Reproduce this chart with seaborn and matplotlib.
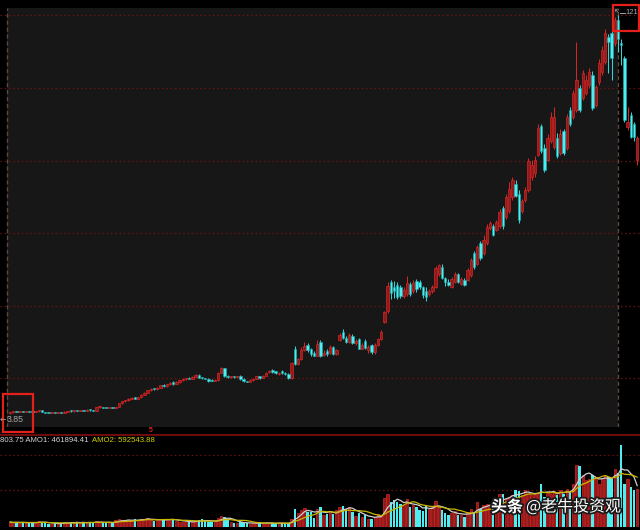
import numpy as np
import pandas as pd
import matplotlib
matplotlib.use("Agg")
import matplotlib.pyplot as plt
import matplotlib.patheffects as pe
from matplotlib.patches import Rectangle
from matplotlib.lines import Line2D
import seaborn as sns

# ---------------- data (daily candles) ----------------
open_ = [4.2, 4.4, 4.5, 4.4, 4.6, 4.5, 4.6, 4.5, 4.4, 4.6,
         4.9, 4.4, 4.2, 4.1, 4.2, 4.1, 4.3, 4.2, 4.5, 4.8,
         4.6, 4.9, 4.8, 5.0, 4.8, 5.0, 4.9, 4.8, 5.8, 5.9,
         5.7, 5.6, 5.8, 5.7, 5.9, 7.0, 7.6, 7.9, 8.3, 8.6,
         8.4, 8.7, 9.4, 10.0, 10.8, 11.3, 11.1, 11.6, 12.3, 12.0,
         12.6, 13.3, 12.7, 13.2, 13.7, 14.0, 14.3, 14.2, 14.8, 15.3,
         14.5, 14.3, 14.2, 13.9, 13.6, 13.8, 16.0, 17.3, 15.0, 14.6,
         14.9, 14.7, 15.0, 14.1, 13.4, 13.3, 13.8, 14.2, 14.9, 14.4,
         15.0, 16.1, 16.8, 16.2, 15.5, 16.5, 15.8, 15.6, 14.3, 22.9,
         18.5, 19.9, 22.6, 24.0, 22.8, 21.8, 21.0, 25.0, 21.2, 22.4,
         21.8, 23.5, 21.5, 25.6, 28.0, 26.2, 25.0, 26.8, 24.6, 25.8,
         23.0, 25.2, 22.5, 24.0, 22.0, 24.2, 25.8, 31.0, 34.0, 42.5,
         41.0, 41.8, 41.0, 38.4, 39.0, 42.0, 40.0, 43.0, 42.5, 41.0,
         40.0, 39.2, 40.0, 41.0, 45.0, 47.0, 43.8, 42.6, 41.2, 42.6,
         45.0, 42.0, 43.3, 43.2, 44.6, 51.0, 48.0, 54.0, 51.0, 54.0,
         58.5, 59.0, 58.0, 59.0, 64.3, 61.8, 63.5, 67.5, 71.5, 68.5,
         63.5, 66.6, 69.5, 73.5, 74.5, 80.0, 88.5, 82.0, 78.5, 84.0,
         82.2, 84.8, 80.5, 87.0, 82.0, 93.0, 91.0, 93.0, 99.5, 96.5,
         98.0, 100.5, 103.5, 94.5, 101.3, 104.2, 107.2, 114.5, 115.6, 112.8,
         119.5, 112.9, 108.5, 88.0, 91.5, 89.0, 78.4]
close = [4.4, 4.5, 4.4, 4.6, 4.5, 4.6, 4.5, 4.4, 4.6, 4.8,
         4.4, 4.2, 4.1, 4.2, 4.1, 4.3, 4.2, 4.5, 4.7, 4.6,
         4.9, 4.8, 5.0, 4.8, 5.0, 4.9, 4.8, 5.8, 5.9, 5.7,
         5.6, 5.8, 5.7, 5.9, 7.0, 7.6, 7.9, 8.3, 8.5, 8.4,
         8.7, 9.4, 10.0, 10.8, 11.3, 11.1, 11.6, 12.3, 12.0, 12.6,
         12.9, 12.7, 13.2, 13.7, 14.0, 14.3, 14.2, 14.8, 15.3, 14.5,
         14.3, 14.2, 13.6, 13.6, 13.8, 15.8, 17.3, 14.9, 14.6, 14.9,
         14.7, 14.9, 14.1, 13.4, 13.3, 13.8, 14.2, 14.9, 14.4, 15.0,
         16.0, 16.6, 16.2, 16.0, 16.0, 15.8, 15.6, 14.4, 18.8, 18.6,
         19.9, 22.6, 23.8, 22.6, 21.6, 21.0, 24.4, 20.8, 21.9, 21.4,
         23.5, 21.4, 22.5, 27.0, 26.2, 25.0, 27.0, 24.8, 25.2, 23.0,
         24.0, 23.2, 23.4, 22.0, 24.2, 25.8, 27.8, 33.8, 41.4, 39.5,
         40.0, 38.2, 38.5, 40.4, 42.4, 39.0, 42.3, 40.6, 41.2, 38.8,
         38.3, 40.0, 41.0, 46.7, 47.5, 43.8, 42.5, 41.8, 43.6, 45.0,
         42.6, 43.5, 41.8, 46.1, 49.0, 47.0, 52.8, 49.6, 55.0, 58.7,
         59.8, 56.5, 60.2, 63.2, 59.0, 67.5, 70.0, 72.5, 68.0, 60.8,
         66.5, 69.5, 78.0, 77.0, 78.4, 87.8, 81.0, 75.5, 84.8, 91.0,
         91.0, 79.5, 86.0, 80.5, 91.0, 89.0, 98.0, 101.9, 93.0, 104.0,
         102.0, 104.3, 93.7, 99.8, 107.0, 110.7, 115.7, 113.0, 108.5, 119.5,
         114.0, 112.3, 90.2, 89.5, 85.2, 85.2, 84.9]
high = [4.5, 4.6, 4.6, 4.7, 4.7, 4.8, 4.7, 4.6, 4.8, 5.0,
        5.0, 4.5, 4.3, 4.3, 4.3, 4.4, 4.4, 4.6, 4.8, 4.9,
        5.0, 5.0, 5.1, 5.1, 5.2, 5.2, 5.0, 5.9, 6.1, 6.0,
        5.8, 5.9, 5.9, 6.0, 7.1, 7.8, 8.1, 8.5, 8.8, 8.8,
        8.9, 9.6, 10.2, 11.0, 11.6, 11.6, 11.8, 12.5, 12.6, 12.8,
        13.1, 13.6, 13.4, 13.9, 14.3, 14.5, 14.6, 15.0, 15.6, 15.6,
        14.7, 14.5, 14.4, 14.1, 14.0, 16.1, 17.6, 17.5, 15.3, 15.1,
        15.1, 15.1, 15.2, 14.3, 13.6, 14.0, 14.4, 15.1, 15.1, 15.2,
        16.2, 16.9, 17.2, 16.5, 16.3, 16.8, 16.1, 15.8, 19.0, 23.8,
        20.4, 23.4, 25.0, 24.6, 23.3, 22.3, 25.6, 25.6, 22.6, 22.8,
        24.0, 23.8, 23.0, 27.5, 28.7, 26.8, 27.6, 27.4, 26.0, 26.3,
        24.8, 25.8, 24.0, 24.5, 24.8, 26.2, 28.5, 34.2, 42.5, 43.2,
        43.0, 42.5, 41.8, 41.0, 44.4, 42.5, 43.2, 43.6, 43.3, 41.5,
        41.0, 40.5, 41.8, 47.2, 48.0, 47.8, 44.2, 43.4, 44.0, 45.6,
        45.3, 44.0, 43.8, 46.7, 49.6, 51.6, 53.5, 54.6, 56.5, 59.5,
        60.5, 59.5, 60.8, 64.0, 64.8, 68.3, 72.0, 73.5, 72.5, 69.5,
        67.0, 70.5, 79.0, 78.5, 79.5, 89.0, 89.0, 83.0, 86.0, 92.5,
        94.0, 86.5, 87.5, 87.5, 92.0, 94.0, 99.0, 113.0, 100.5, 105.0,
        103.5, 105.5, 104.5, 100.5, 108.0, 112.0, 117.0, 115.5, 116.5, 120.5,
        121.0, 114.0, 109.0, 94.0, 92.5, 89.5, 85.5]
low = [3.85, 4.2, 4.3, 4.3, 4.4, 4.4, 4.4, 4.3, 4.3, 4.5,
       4.3, 4.1, 4.0, 4.0, 4.0, 4.0, 4.1, 4.1, 4.4, 4.5,
       4.5, 4.7, 4.7, 4.7, 4.7, 4.8, 4.7, 4.7, 5.7, 5.6,
       5.5, 5.5, 5.6, 5.6, 5.8, 6.9, 7.5, 7.8, 8.2, 8.2,
       8.3, 8.6, 9.3, 9.9, 10.7, 10.9, 11.0, 11.5, 11.8, 11.9,
       12.5, 12.4, 12.6, 13.0, 13.5, 13.9, 14.0, 14.1, 14.6, 14.3,
       14.1, 14.0, 13.3, 13.4, 13.4, 13.6, 15.9, 14.7, 14.4, 14.5,
       14.5, 14.5, 13.9, 13.2, 13.1, 13.1, 13.6, 14.0, 14.2, 14.3,
       14.9, 15.9, 16.0, 15.6, 15.2, 15.6, 15.3, 14.0, 14.2, 18.2,
       18.2, 19.6, 22.3, 22.2, 21.0, 20.8, 20.8, 20.5, 20.8, 20.9,
       21.5, 21.2, 21.3, 25.3, 25.9, 24.7, 24.8, 24.5, 24.2, 22.8,
       22.8, 23.0, 21.8, 21.5, 21.6, 23.8, 25.5, 30.5, 33.6, 37.5,
       38.0, 37.5, 38.0, 37.9, 38.5, 38.5, 39.5, 39.8, 40.5, 38.0,
       37.0, 38.5, 39.5, 40.8, 44.5, 43.5, 41.5, 41.3, 40.8, 42.2,
       42.2, 41.6, 41.5, 43.0, 44.2, 46.5, 47.5, 49.0, 50.5, 53.5,
       57.8, 56.0, 57.5, 58.5, 58.3, 61.2, 63.0, 66.8, 67.5, 60.0,
       63.0, 66.0, 69.0, 72.5, 73.5, 79.5, 80.5, 75.0, 78.0, 83.5,
       81.8, 79.0, 80.0, 80.0, 81.5, 88.5, 90.5, 92.5, 92.5, 96.0,
       97.5, 99.5, 93.0, 94.0, 100.5, 103.5, 106.5, 104.0, 102.0, 112.0,
       110.0, 106.3, 89.5, 87.2, 85.0, 84.0, 77.0]
amount = [56000, 45000, 56000, 45000, 56000, 45000, 45000, 56000, 45000, 67000,
          56000, 45000, 34000, 34000, 45000, 34000, 45000, 56000, 45000, 56000,
          45000, 56000, 45000, 56000, 45000, 56000, 45000, 67000, 56000, 45000,
          45000, 56000, 45000, 78000, 90000, 78000, 67000, 78000, 67000, 90000,
          78000, 90000, 90000, 101000, 78000, 67000, 78000, 90000, 78000, 90000,
          78000, 90000, 67000, 56000, 56000, 67000, 56000, 56000, 67000, 78000,
          90000, 67000, 56000, 56000, 67000, 101000, 123000, 112000, 90000, 56000,
          45000, 45000, 56000, 45000, 45000, 34000, 45000, 45000, 56000, 34000,
          45000, 45000, 45000, 34000, 45000, 45000, 34000, 45000, 90000, 202000,
          157000, 190000, 213000, 168000, 168000, 101000, 202000, 224000, 134000, 146000,
          168000, 146000, 190000, 224000, 235000, 202000, 224000, 168000, 123000, 157000,
          112000, 134000, 90000, 90000, 112000, 146000, 134000, 325000, 370000, 280000,
          302000, 280000, 258000, 246000, 314000, 224000, 246000, 224000, 190000, 179000,
          246000, 202000, 224000, 291000, 224000, 190000, 157000, 134000, 157000, 179000,
          134000, 134000, 112000, 168000, 202000, 168000, 280000, 202000, 246000, 258000,
          235000, 280000, 246000, 370000, 370000, 314000, 336000, 358000, 414000, 403000,
          358000, 414000, 370000, 358000, 370000, 381000, 482000, 336000, 392000, 370000,
          403000, 358000, 414000, 370000, 426000, 392000, 482000, 694000, 683000, 582000,
          526000, 538000, 582000, 560000, 482000, 538000, 582000, 560000, 540000, 650000,
          600000, 920000, 482000, 538000, 448000, 414000, 426000]

label_white = "803.75 AMO1: 461894.41"
label_yellow = "AMO2: 592543.88"
low_label = "3.85"
high_label = "121"

# ---------------- styling ----------------
sns.set_style("dark", {"axes.facecolor": "black", "figure.facecolor": "black"})
plt.rcParams['font.family'] = ['Liberation Sans', 'DejaVu Sans']

W, H = 640, 530
def fx(x):
    return x / W
def fy(y):
    return 1 - y / H

df = pd.DataFrame({"open": open_, "close": close, "high": high, "low": low, "amount": amount})
df["idx"] = np.arange(len(df))
df["up"] = df["close"] >= df["open"]
df["ma5"] = df["amount"].rolling(5, min_periods=1).mean()
df["ma10"] = df["amount"].rolling(10, min_periods=1).mean()

RED_FACE, RED_EDGE = "#901a1a", "#d42626"
CY_FACE, CY_EDGE = "#4ceef2", "#22a8a8"

fig = plt.figure(figsize=(6.4, 5.3), dpi=100, facecolor="black")
ax = fig.add_axes([0, fy(427), 1, (427 - 8) / H])
axv = fig.add_axes([0, fy(527), 1, (527 - 434.5) / H])

# candle i sits at pixel 10 + 3.2 i
XMIN, XMAX = -10 / 3.2, (640 - 10) / 3.2

# ---------------- main price panel ----------------
ax.set_facecolor("black")
ax.axvspan((7 - 10) / 3.2, (617.5 - 10) / 3.2, color="#171717", zorder=0, lw=0)
for g in [121.0, 99.57, 78.13, 57.0, 35.56, 14.42]:
    ax.axhline(g, color="#6e1111", lw=0.9, ls=(0, (1.2, 2.2)), zorder=1)
for vx in [(7 - 10) / 3.2, (617.5 - 10) / 3.2]:
    ax.axvline(vx, color="#5e4a3a", lw=1.0, ls=(0, (3, 2)), zorder=1)

up = df[df["up"]]
dn = df[~df["up"]]
ax.vlines(up["idx"], up["low"], up["high"], colors=RED_EDGE, lw=0.75, zorder=2)
ax.vlines(dn["idx"], dn["low"], dn["high"], colors="#36d2d6", lw=0.75, zorder=2)
ax.bar(up["idx"], np.maximum(up["close"] - up["open"], 0.35), bottom=up["open"], width=0.72,
       color=RED_FACE, edgecolor=RED_EDGE, linewidth=0.5, zorder=3)
ax.bar(dn["idx"], np.maximum(dn["open"] - dn["close"], 0.35), bottom=dn["close"], width=0.72,
       color=CY_FACE, edgecolor=CY_EDGE, linewidth=0.4, zorder=3)
ax.set_xlim(XMIN, XMAX)
ax.set_ylim(0.033, 123.06)
ax.set_xticks([])
ax.set_yticks([])
for s in ax.spines.values():
    s.set_visible(False)

# ---------------- volume / amount panel ----------------
axv.set_facecolor("black")
for g in [414400, 806400]:
    axv.axhline(g, color="#6e1111", lw=0.9, ls=(0, (1.2, 2.2)), zorder=1)
sns.barplot(x=up["idx"].values, y=up["amount"].values, native_scale=True, color=RED_FACE,
            saturation=1, width=0.72, edgecolor=RED_EDGE, linewidth=0.5, errorbar=None,
            ax=axv, zorder=2)
sns.barplot(x=dn["idx"].values, y=dn["amount"].values, native_scale=True, color=CY_FACE,
            saturation=1, width=0.72, linewidth=0, errorbar=None, ax=axv, zorder=2)
sns.lineplot(x=df["idx"].values, y=df["ma5"].values, color="#cfcfcf", lw=0.9, ax=axv, zorder=4)
sns.lineplot(x=df["idx"].values, y=df["ma10"].values, color="#c8b800", lw=0.9, ax=axv, zorder=4)
axv.set_xlim(XMIN, XMAX)
axv.set_ylim(0, 1036000)
axv.set_xticks([])
axv.set_yticks([])
axv.set_xlabel("")
axv.set_ylabel("")
for name, s in axv.spines.items():
    s.set_visible(name == "top")
axv.spines["top"].set_color("#700d0d")
axv.spines["top"].set_linewidth(1.4)

# ---------------- texts ----------------
fig.text(fx(0.5), fy(440), label_white, ha="left", va="center", color="#d6d6d6", fontsize=5.6)
fig.text(fx(92), fy(440), label_yellow, ha="left", va="center", color="#d2d200", fontsize=5.6)
fig.text(fx(0), fy(419.5), "←", ha="left", va="center", color="#a0a0a0", fontsize=5.5,
         family=["DejaVu Sans"])
fig.text(fx(7), fy(419.5), low_label, ha="left", va="center", color="#a8a8a8", fontsize=6.3)
fig.text(fx(613.5), fy(11.5), "↖", ha="left", va="center", color="#a8a8a8", fontsize=5.5,
         family=["DejaVu Sans"])
fig.add_artist(Line2D([fx(619.5), fx(624.5)], [fy(12.5), fy(12.5)], color="#a8a8a8", lw=0.7))
fig.text(fx(625), fy(12.5), high_label, ha="left", va="center", color="#a8a8a8", fontsize=5.5)
fig.text(fx(150.5), fy(430.5), "5", ha="center", va="center", color="#e02020", fontsize=5,
         weight="bold")

# red highlight boxes
fig.add_artist(Rectangle((fx(2.7), fy(432.3)), 30.6 / W, 38 / H, fill=False,
                         edgecolor="#e4201a", lw=1.6))
fig.add_artist(Rectangle((fx(613.3), fy(30.7)), 25.7 / W, 26 / H, fill=False,
                         edgecolor="#e4201a", lw=1.6))

# watermark
shadow = [pe.withStroke(linewidth=2.5, foreground="#1a1a1a")]
fig.text(fx(491), fy(507), "头条", ha="left", va="center", color="white", fontsize=11.5,
         weight="bold", family=["Noto Sans CJK SC"], path_effects=shadow)
fig.text(fx(526), fy(507), "@老牛投资观", ha="left", va="center", color="white", fontsize=11.5,
         family=["Noto Sans CJK SC", "DejaVu Sans"], path_effects=shadow)

fig.savefig("out.png", dpi=100, facecolor="black")
